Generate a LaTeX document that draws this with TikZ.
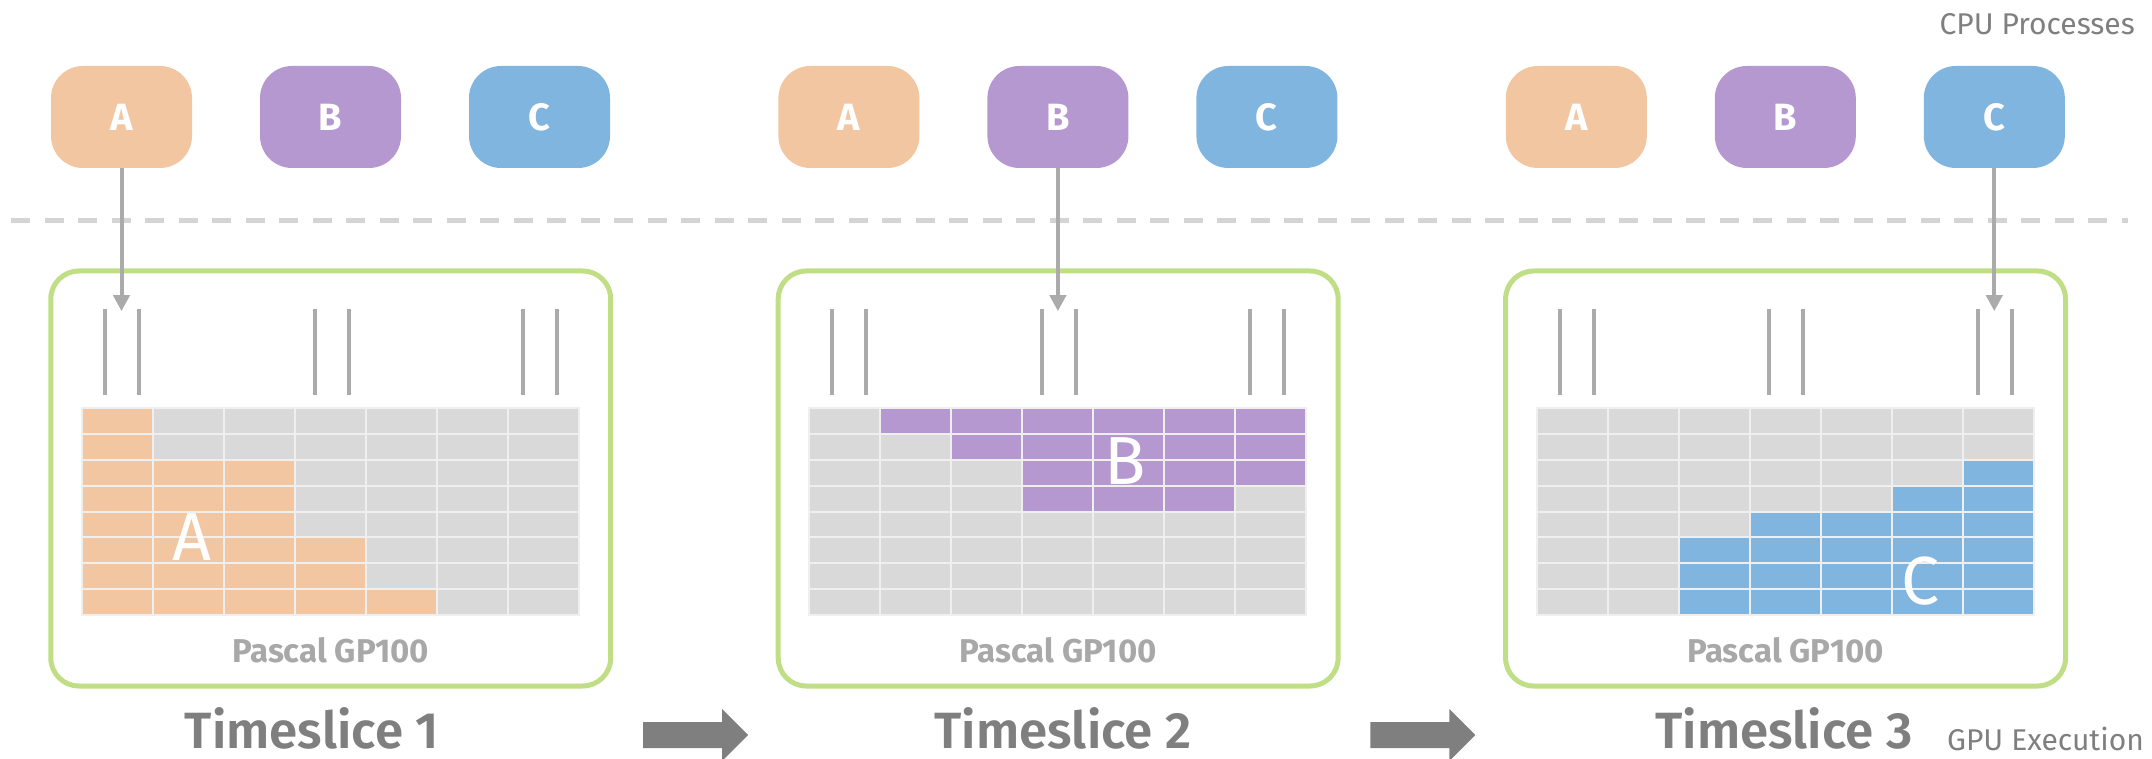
\documentclass[tikz,border=0pt]{standalone}
\usepackage{fontspec}
\setmainfont{Fira Sans}
\newfontfamily\semifont{Fira Sans SemiBold}
\usetikzlibrary{arrows.meta}

\definecolor{procA}{HTML}{F2C6A0}
\definecolor{procB}{HTML}{B598CF}
\definecolor{procC}{HTML}{80B5DF}
\definecolor{framegreen}{HTML}{BFDE85}
\definecolor{cellgray}{HTML}{D9D9D9}
\definecolor{cellrule}{HTML}{EFEFEF}
\definecolor{linegray}{HTML}{ABABAB}
\definecolor{dashgray}{HTML}{D4D4D4}
\definecolor{labelgray}{HTML}{A8A8A8}
\definecolor{textgray}{HTML}{7F7F7F}

\tikzset{
  proc/.style={rounded corners=32pt, minimum width=141pt, minimum height=102pt,
    inner sep=0pt, text=white, font=\fontsize{38}{38}\selectfont\bfseries},
  gpubox/.style={draw=framegreen, line width=5pt, rounded corners=28pt},
  tick/.style={draw=linegray, line width=4pt},
  feed/.style={draw=linegray, line width=4pt, -{Triangle[length=16pt,width=16pt]}},
  cellline/.style={draw=cellrule, line width=2pt},
  bigletter/.style={text=white, inner sep=0pt, font=\fontsize{68}{68}\selectfont},
  gpulabel/.style={text=labelgray, inner sep=0pt, anchor=base, font=\fontsize{33}{33}\selectfont\bfseries},
  slicelabel/.style={text=textgray, inner sep=0pt, anchor=base, font=\fontsize{51}{51}\selectfont\semifont},
  sidelabel/.style={text=textgray, inner sep=0pt, font=\fontsize{30}{30}\selectfont},
  stepshape/.style={fill=textgray},
}

\begin{document}
\begin{tikzpicture}[x=1pt,y=-1pt]
\useasboundingbox (0,0) rectangle (2152,759);

% separator between CPU and GPU
\draw[dashgray, line width=5pt, dash pattern=on 19pt off 14.5pt] (11,221) -- (2128,221);

\node[sidelabel, anchor=base east] (cpulabel) at (2135,35) {CPU Processes};
\node[sidelabel, anchor=base east] (gpulabel) at (2144,750) {GPU Execution};

% three time slices
\foreach \i/\act in {1/A,2/B,3/C} {
  \pgfmathsetmacro\ox{(\i-1)*727.4}
  % GPU frame
  \draw[gpubox] ({50.8+\ox},271) rectangle ({610.7+\ox},686);
  % CPU process boxes
  \foreach \p/\c in {A/121.5,B/330.5,C/539.5}
    \node[proc, fill=proc\p] (p\p\i) at ({\c+\ox},117) {\p};
  % context switch ticks
  \foreach \c in {122,331.5,540} {
    \draw[tick] ({\c-17+\ox},309) -- ({\c-17+\ox},395);
    \draw[tick] ({\c+17+\ox},309) -- ({\c+17+\ox},395);
  }
  % active process feeding the GPU
  \path (p\act\i.south) ++(0,143) coordinate (land\i);
  \draw[feed] (p\act\i.south) -- (land\i);
  % SM grid background
  \fill[cellgray] ({82+\ox},408) rectangle ({579+\ox},615);
}

% occupied SMs per slice
\foreach \r/\a/\b in {1/1/1,2/1/1,3/1/3,4/1/3,5/1/3,6/1/4,7/1/4,8/1/5}
  \fill[procA] ({82+71*(\a-1)},{408+25.875*(\r-1)}) rectangle ({82+71*\b},{408+25.875*\r});
\foreach \r/\a/\b in {1/2/7,2/3/7,3/4/7,4/4/6}
  \fill[procB] ({727.4+82+71*(\a-1)},{408+25.875*(\r-1)}) rectangle ({727.4+82+71*\b},{408+25.875*\r});
\foreach \r/\a/\b in {3/7/7,4/6/7,5/4/7,6/3/7,7/3/7,8/3/7}
  \fill[procC] ({1454.8+82+71*(\a-1)},{408+25.875*(\r-1)}) rectangle ({1454.8+82+71*\b},{408+25.875*\r});

% grid rules
\foreach \i in {0,1,2} {
  \foreach \k in {1,...,6}
    \draw[cellline] ({82+71*\k+727.4*\i},408) -- ++(0,207);
  \foreach \k in {1,...,7}
    \draw[cellline] ({82+727.4*\i},{408+25.875*\k}) -- ++(497,0);
  \draw[cellline] ({82+727.4*\i},408) rectangle ++(497,207);
}

\node[bigletter] (bigA) at (192,537) {A};
\node[bigletter] (bigB) at (1125,461) {B};
\node[bigletter] (bigC) at (1921,581) {C};

\foreach \i in {1,2,3}
  \node[gpulabel] (gp\i) at ({330.7+727.4*(\i-1)},662) {Pascal GP100};

\node[slicelabel] (ts1) at (312,748) {Timeslice 1};
\node[slicelabel] (ts2) at (1063,748) {Timeslice 2};
\node[slicelabel] (ts3) at (1784,748) {Timeslice 3};

% block arrows between slices
\foreach \s in {0,727.4}
  \fill[stepshape] ({643+\s},722) -- ({722+\s},722) -- ({722+\s},709) -- ({748+\s},735)
    -- ({722+\s},761) -- ({722+\s},748) -- ({643+\s},748) -- cycle;
\end{tikzpicture}
\end{document}
